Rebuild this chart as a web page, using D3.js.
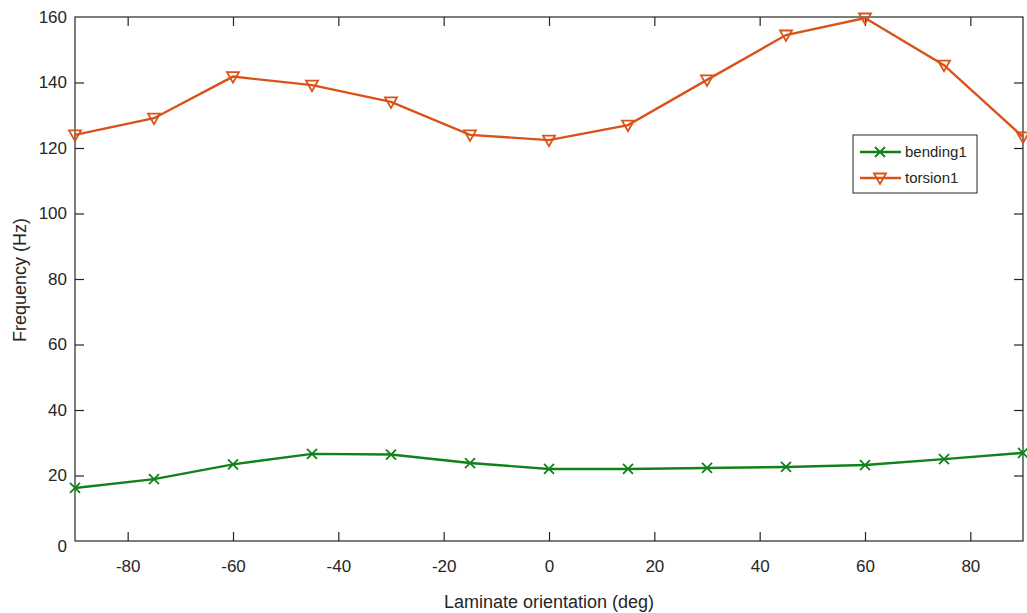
<!DOCTYPE html>
<html><head><meta charset="utf-8">
<script src="https://cdn.jsdelivr.net/npm/d3@7"></script>
<style>body{margin:0;background:#fff}svg{display:block}text{font-family:"Liberation Sans",Arial,Helvetica,sans-serif;fill:#262626}</style>
</head><body><svg id="c" width="1027" height="613"></svg>
<script>
const angles = [-90,-75,-60,-45,-30,-15,0,15,30,45,60,75,90];
const bending1 = [16.2,18.9,23.4,26.6,26.4,23.8,22.0,22.0,22.3,22.6,23.2,25.0,26.9];
const torsion1 = [124.0,129.1,141.8,139.2,134.1,124.0,122.4,127.0,140.8,154.5,159.7,145.3,123.4];
const xTicks = [-80,-60,-40,-20,0,20,40,60,80];
const yTicks = [0,20,40,60,80,100,120,140,160];
const seriesNames = ["bending1","torsion1"];

const svg = d3.select("#c");
const L=75, R=1023, T=17, B=541;
const x = d3.scaleLinear().domain([-90,90]).range([L,R]);
const y = d3.scaleLinear().domain([0,160]).range([B,T]);
const ax = "#262626", tl = 9;
const green = "#11821a", orange = "#d95319";

svg.append("rect").attr("x",L).attr("y",T).attr("width",R-L).attr("height",B-T)
  .attr("fill","none").attr("stroke",ax).attr("stroke-width",1.2);

const fmt = d=>String(d);
const xb = svg.append("g").attr("transform",`translate(0,${B})`)
  .call(d3.axisBottom(x).tickValues(xTicks).tickSize(-tl).tickPadding(19).tickFormat(fmt));
const xt = svg.append("g").attr("transform",`translate(0,${T})`)
  .call(d3.axisTop(x).tickValues(xTicks).tickSize(-tl).tickFormat(""));
const yl = svg.append("g").attr("transform",`translate(${L},0)`)
  .call(d3.axisLeft(y).tickValues(yTicks).tickSize(-tl).tickPadding(8).tickFormat(fmt));
const yr = svg.append("g").attr("transform",`translate(${R},0)`)
  .call(d3.axisRight(y).tickValues(yTicks).tickSize(-tl).tickFormat(""));
[xb,xt,yl,yr].forEach(g=>{
  g.select(".domain").remove();
  g.selectAll(".tick line").attr("stroke",ax).attr("stroke-width",1.2);
  g.selectAll(".tick text").attr("font-size",17).attr("fill",ax).style("font-family",'"Liberation Sans",Arial,sans-serif');
});
yl.selectAll(".tick").filter(d=>d===0||d===160).select("line").remove();
yr.selectAll(".tick").filter(d=>d===0||d===160).select("line").remove();
yl.selectAll(".tick").filter(d=>d===0).select("text").attr("dy","0.6em");

svg.append("text").attr("x",(L+R)/2).attr("y",608).attr("text-anchor","middle")
  .attr("font-size",18).text("Laminate orientation (deg)");
svg.append("text").attr("transform","translate(26,280) rotate(-90)").attr("text-anchor","middle")
  .attr("font-size",18).text("Frequency (Hz)");

const line = d3.line().x((d,i)=>x(angles[i])).y(d=>y(d));
const plot = svg.append("g");
plot.append("path").datum(bending1).attr("d",line).attr("fill","none").attr("stroke",green).attr("stroke-width",2.4);
plot.append("path").datum(torsion1).attr("d",line).attr("fill","none").attr("stroke",orange).attr("stroke-width",2.4);

const xMark = (s)=>`M${-s},${-s}L${s},${s}M${-s},${s}L${s},${-s}`;
const triMark = (s)=>`M${-s},${-s*0.75}L${s},${-s*0.75}L0,${s*1.0}Z`;

plot.selectAll(".mb").data(bending1).join("path")
  .attr("transform",(d,i)=>`translate(${x(angles[i])},${y(d)})`)
  .attr("d",xMark(5)).attr("fill","none").attr("stroke",green).attr("stroke-width",1.8);
plot.selectAll(".mt").data(torsion1).join("path")
  .attr("transform",(d,i)=>`translate(${x(angles[i])},${y(d)})`)
  .attr("d",triMark(6)).attr("fill","none").attr("stroke",orange).attr("stroke-width",1.8);

const lg = svg.append("g");
lg.append("rect").attr("x",853).attr("y",135).attr("width",124).attr("height",58)
  .attr("fill","#fff").attr("stroke",ax).attr("stroke-width",1);
const cols=[green,orange];
seriesNames.forEach((n,i)=>{
  const yy = 152 + i*26;
  lg.append("line").attr("x1",860).attr("x2",901).attr("y1",yy).attr("y2",yy).attr("stroke",cols[i]).attr("stroke-width",2.4);
  lg.append("path").attr("transform",`translate(880,${yy})`).attr("d",i===0?xMark(5):triMark(6))
    .attr("fill","none").attr("stroke",cols[i]).attr("stroke-width",1.8);
  lg.append("text").attr("x",905).attr("y",yy+5).attr("font-size",15).text(n);
});
</script></body></html>
